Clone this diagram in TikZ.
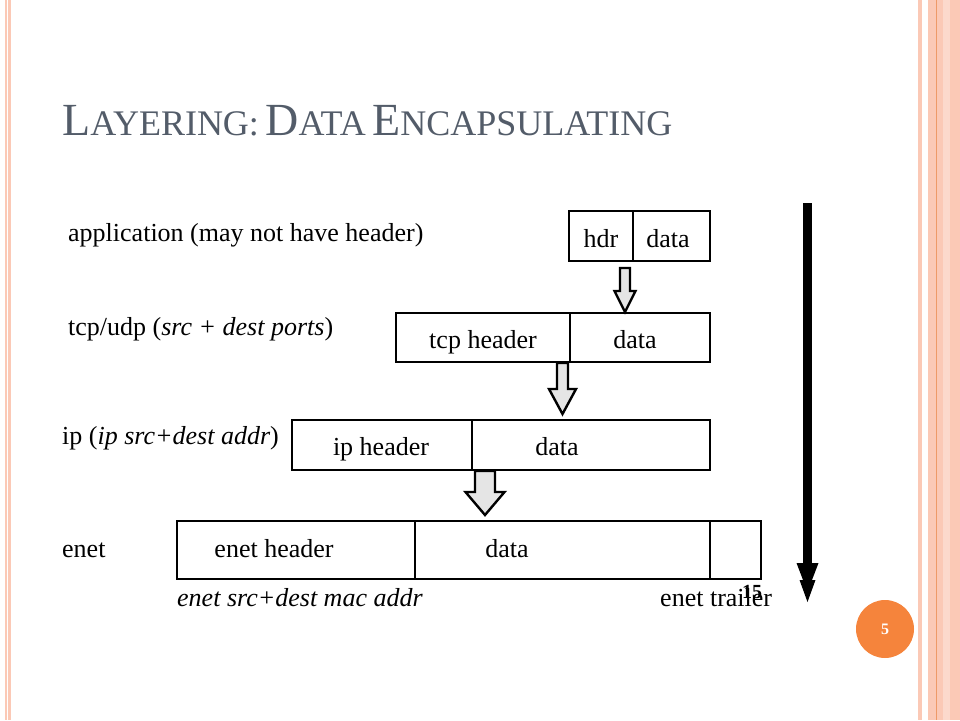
\documentclass[tikz,border=0pt]{standalone}
\usepackage{fontspec}
\setmainfont{Liberation Serif}
\usepackage{xcolor}
\usetikzlibrary{positioning}
\usetikzlibrary{calc}
\definecolor{titlegray}{HTML}{535C69}
\definecolor{stripe}{HTML}{FBC9B6}
\definecolor{stripedark}{HTML}{EE9A68}
\definecolor{badge}{HTML}{F5843C}
\newcommand{\smallcap}[2]{{\fontsize{46}{50}\selectfont #1}{\fontsize{36}{40}\selectfont #2}}
\newcommand{\hollowarrow}[6]{%
	\draw[hollow] ({#1-#5},#2) -- ({#1+#5},#2) -- ({#1+#5},#3) -- ({#1+#6},#3) -- (#1,#4)
		-- ({#1-#6},#3) -- ({#1-#5},#3) -- cycle;}

\begin{document}
\begin{tikzpicture}[x=1pt, y=-1pt, font=\fontsize{26}{30}\selectfont]
    \tikzstyle{field}=[draw=black, line width=1.2pt, rectangle, inner sep=0pt, outer sep=0pt, minimum height=50pt, anchor=north west]
    \tikzstyle{txt}=[inner sep=0pt, anchor=base]
    \tikzstyle{lbl}=[inner sep=0pt, anchor=base west]
    \tikzstyle{hollow}=[draw=black, line width=2.4pt, fill=black!10, line join=miter]

	\useasboundingbox (0,0) rectangle (960,720);

	% slide border
	\fill[stripe] (5,0) rectangle (6.5,720);
	\fill[stripe] (8,0) rectangle (11,720);
	\fill[stripe] (918,0) rectangle (922,720);
	\fill[stripe] (928,0) rectangle (960,720);
	\fill[stripedark] (935.5,0) rectangle (937,720);
	\fill[white, opacity=0.3] (943,0) rectangle (950,720);

	\node[lbl, text=titlegray] (title) at (62,135) {\smallcap{L}{AYERING:} \smallcap{D}{ATA} \smallcap{E}{NCAPSULATING}};

	% packets
	\node[field, minimum width=64pt] (apph) at (569,211) {};
	\node[field, minimum width=77pt, right=0pt of apph] (appd) {};
	\node[field, minimum width=174pt, minimum height=49pt] (tcph) at (396,313) {};
	\node[field, minimum width=140pt, minimum height=49pt, right=0pt of tcph] (tcpd) {};
	\node[field, minimum width=180pt] (iph) at (292,420) {};
	\node[field, minimum width=238pt, right=0pt of iph] (ipd) {};
	\node[field, minimum width=238pt, minimum height=58pt] (ench) at (177,521) {};
	\node[field, minimum width=295pt, minimum height=58pt, right=0pt of ench] (encd) {};
	\node[field, minimum width=51pt, minimum height=58pt, right=0pt of encd] (enct) {};

	\node[txt] at (601,247) {hdr};
	\node[txt] at (668,247) {data};
	\node[txt] at (483,348) {tcp header};
	\node[txt] at (635,348) {data};
	\node[txt] at (381,455) {ip header};
	\node[txt] at (557,455) {data};
	\node[txt] at (274,557) {enet header};
	\node[txt] at (507,557) {data};

	% layer names
	\node[lbl] (lapp) at (68,241) {application (may not have header)};
	\node[lbl] (ltcp) at (68,335) {tcp/udp (\textit{src + dest ports})};
	\node[lbl] (lip) at (62,444) {ip (\textit{ip src+dest addr})};
	\node[lbl] (lenet) at (62,557) {enet};
	\node[lbl] (lmac) at (177,606) {\textit{enet src+dest mac addr}};
	\node[lbl] (ltrl) at (660,606) {enet trailer};
	\node[txt, font=\fontsize{20}{22}\selectfont\bfseries] (pg) at (752,598) {15};

	% encapsulation arrows
	\hollowarrow{625}{268}{291}{312}{5}{10.5}
	\hollowarrow{562.5}{363}{389}{414}{5.5}{13.5}
	\hollowarrow{485}{471}{492}{515}{10}{19.5}

	% downward arrow
	\coordinate (dtop) at (807.5,203);
	\coordinate (dbot) at (807.5,566);
	\draw[line width=9pt] (dtop) -- (dbot);
	\fill[black] (796.5,563) -- (818.5,563) -- (812,580) -- (815.5,580) -- (807.5,602)
		-- (799.5,580) -- (803,580) -- cycle;

	% slide number
	\node[circle, fill=badge, minimum size=58pt, inner sep=0pt, text=white,
		font=\fontsize{16}{18}\selectfont\bfseries] (num) at (885,629) {5};
\end{tikzpicture}
\end{document}
